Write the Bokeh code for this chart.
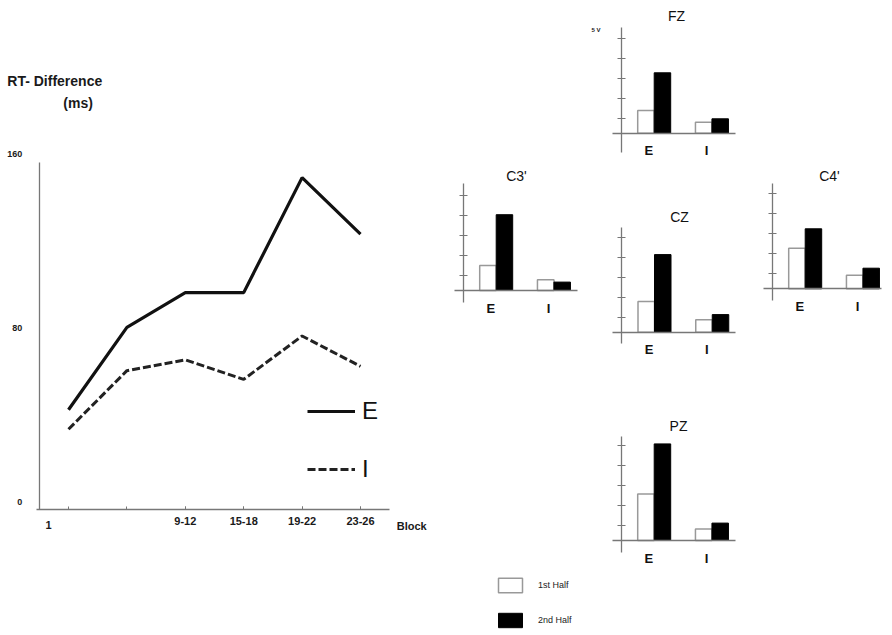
from bokeh.plotting import figure
from bokeh.models import (Range1d, LinearAxis, FixedTicker, Label, Legend, LegendItem,
                          ColumnDataSource)
from bokeh.layouts import row, column
from bokeh.embed import file_html
from bokeh.resources import INLINE

FONT = "Liberation Sans"

# ---------------- data ----------------
block_pos = [1, 2, 3, 4, 5, 6]
block_labels = ["1", "", "9-12", "15-18", "19-22", "23-26"]
rt_E = [46, 84, 100, 100, 153, 127]
rt_I = [37, 64, 69, 60, 80, 66]
rt_yticks = [0, 80, 160]

conditions = ["E", "I"]
half_labels = ["1st Half", "2nd Half"]
fz_first = [1.14, 0.55]
fz_second = [3.02, 0.72]
c3_first = [1.25, 0.54]
c3_second = [3.79, 0.42]
cz_first = [1.53, 0.62]
cz_second = [3.88, 0.88]
c4_first = [2.03, 0.68]
c4_second = [3.00, 1.03]
pz_first = [2.33, 0.58]
pz_second = [4.83, 0.87]
bar_ticks = [0.75, 1.75, 2.75, 3.75, 4.75]

AXIS_COLOR = "#777777"
TXT = "#1a1a1a"

# ---------------- left line chart ----------------
LW, LH = 440, 635
PX_X, PX_Y = 58.4, 2.169      # pixels per block / per ms
X1_PX, Y0_PX = 68, 509        # where block 1 / 0 ms sit on the canvas
lp = figure(width=LW, height=LH,
            x_range=Range1d(1 - X1_PX / PX_X, 1 + (LW - X1_PX) / PX_X),
            y_range=Range1d(-(LH - Y0_PX) / PX_Y, Y0_PX / PX_Y),
            x_axis_location=None, y_axis_location=None,
            output_backend="svg", toolbar_location=None, min_border=0)
lp.outline_line_color = None
lp.grid.visible = False

labelled = [p for p, l in zip(block_pos, block_labels) if l and p != 1]
xax = LinearAxis(fixed_location=0, bounds=(0.45, 6.5),
                 ticker=FixedTicker(ticks=labelled, minor_ticks=block_pos),
                 major_label_overrides={p: l for p, l in zip(block_pos, block_labels) if p in labelled})
xax.axis_line_color = AXIS_COLOR
xax.axis_line_width = 1.3
xax.major_tick_line_color = AXIS_COLOR
xax.major_tick_in = 3
xax.major_tick_out = 0
xax.minor_tick_line_color = AXIS_COLOR
xax.minor_tick_in = 3
xax.minor_tick_out = 0
xax.major_label_standoff = 7
xax.major_label_text_font = FONT
xax.major_label_text_font_size = "11px"
xax.major_label_text_font_style = "bold"
xax.major_label_text_color = TXT
lp.add_layout(xax, "below")

yax = LinearAxis(fixed_location=0.5, bounds=(0, 160), ticker=FixedTicker(ticks=[]))
yax.axis_line_color = AXIS_COLOR
yax.axis_line_width = 1.3
yax.major_tick_line_color = None
yax.minor_tick_line_color = None
lp.add_layout(yax, "left")

for t in rt_yticks:
    lp.add_layout(Label(x=0.5, y=t, text=str(t), x_offset=-17, y_offset=8,
                        text_align="right", text_baseline="middle",
                        text_font=FONT, text_font_size="9px", text_font_style="bold",
                        text_color=TXT))

lp.add_layout(Label(x=block_pos[0], y=0, text=block_labels[0], x_offset=-20, y_offset=-15,
                    text_align="center", text_baseline="middle", text_font=FONT,
                    text_font_size="11px", text_font_style="bold", text_color=TXT))
lp.add_layout(Label(x=6.5, y=0, text="Block", x_offset=22, y_offset=-16,
                    text_align="center", text_baseline="middle", text_font=FONT,
                    text_font_size="11px", text_font_style="bold", text_color=TXT))
lp.add_layout(Label(x=0.5, y=160, text="RT- Difference", x_offset=-32, y_offset=81,
                    text_align="left", text_baseline="middle", text_font=FONT,
                    text_font_size="14px", text_font_style="bold", text_color=TXT))
lp.add_layout(Label(x=0.5, y=160, text="(ms)", x_offset=24, y_offset=59,
                    text_align="left", text_baseline="middle", text_font=FONT,
                    text_font_size="14px", text_font_style="bold", text_color=TXT))

rE = lp.line(block_pos, rt_E, line_color="#111111", line_width=3.2)
rI = lp.line(block_pos, rt_I, line_color="#222222", line_width=3, line_dash="8 3")
lp.add_layout(Legend(items=[LegendItem(label="E", renderers=[rE]),
                            LegendItem(label="I", renderers=[rI])],
                     location=(307, 152), glyph_width=48, glyph_height=20, label_standoff=7,
                     spacing=30, padding=0, margin=0, border_line_color=None,
                     background_fill_alpha=0, label_text_font=FONT, label_text_font_size="24px",
                     label_text_color="#111111"))

# ---------------- small bar charts ----------------
SX, SY = 16.5, 20.0   # pixels per unit
LABEL_SHIFT = -0.33   # category labels sit slightly left of the bar pair


def bar_chart(title, first, second, fig_x, fig_y, W, H, axis_x, base_y,
              top_y, bottom_y, right_x, title_x, title_y):
    """fig_x/fig_y: canvas origin on page; other *_x/*_y: page pixels of the axes frame."""
    p = figure(width=W, height=H,
               x_range=Range1d((fig_x - axis_x) / SX, (fig_x + W - axis_x) / SX),
               y_range=Range1d(-(fig_y + H - base_y) / SY, (base_y - fig_y) / SY),
               x_axis_location=None, y_axis_location=None,
               output_backend="svg", toolbar_location=None, min_border=0)
    p.outline_line_color = None
    p.grid.visible = False

    x_lo, x_hi = -9 / SX, (right_x - axis_x) / SX
    y_lo, y_hi = -(bottom_y - base_y) / SY, (base_y - top_y) / SY

    centers = [2 + 3.5 * i for i in range(len(conditions))]
    src = ColumnDataSource(dict(
        x1=[c - 0.5 for c in centers], x2=[c + 0.5 for c in centers],
        first=first, second=second))
    r1 = p.vbar(x="x1", top="first", bottom=0, width=1, source=src,
                fill_color="white", line_color="#999999", line_width=1.5)
    r2 = p.vbar(x="x2", top="second", bottom=0, width=1, source=src,
                fill_color="black", line_color="black", line_width=1)

    label_pos = [c + LABEL_SHIFT for c in centers]
    xa = LinearAxis(fixed_location=0, bounds=(x_lo, x_hi), ticker=FixedTicker(ticks=label_pos),
                    major_label_overrides={c: n for c, n in zip(label_pos, conditions)})
    xa.axis_line_color = AXIS_COLOR
    xa.axis_line_width = 1.3
    xa.major_tick_line_color = None
    xa.minor_tick_line_color = None
    xa.major_label_standoff = 4
    xa.major_label_text_font = FONT
    xa.major_label_text_font_size = "13px"
    xa.major_label_text_font_style = "bold"
    xa.major_label_text_color = "#111111"
    p.add_layout(xa, "below")

    ya = LinearAxis(fixed_location=0, bounds=(y_lo, y_hi),
                    ticker=FixedTicker(ticks=[], minor_ticks=bar_ticks))
    ya.axis_line_color = AXIS_COLOR
    ya.axis_line_width = 1.3
    ya.major_tick_line_color = None
    ya.minor_tick_line_color = AXIS_COLOR
    ya.minor_tick_line_width = 1.2
    ya.minor_tick_in = 4
    ya.minor_tick_out = 4
    p.add_layout(ya, "left")

    p.add_layout(Label(x=(title_x - axis_x) / SX, y=(base_y - title_y) / SY, text=title,
                       text_align="center", text_baseline="middle", text_font=FONT,
                       text_font_size="14px", text_color="#111111"))
    return p, r1, r2


c3, _, _ = bar_chart("C3'", c3_first, c3_second, 440, 0, 148, 392,
                     462.7, 290, 183.3, 301.7, 576.7, 516, 175)
fz, _, _ = bar_chart("FZ", fz_first, fz_second, 588, 0, 162, 190,
                     620.7, 132.7, 27, 152, 735, 676, 15)
fz.add_layout(Label(x=(600 - 620.7) / SX, y=(132.7 - 29) / SY, text="5 V",
                    text_align="right", text_baseline="middle", text_font=FONT,
                    text_font_size="6px", text_font_style="bold", text_color="#222222"))
cz, _, _ = bar_chart("CZ", cz_first, cz_second, 588, 190, 162, 202,
                     621, 331.7, 226.7, 342.7, 735, 679, 216.7)
c4, _, _ = bar_chart("C4'", c4_first, c4_second, 750, 0, 142, 392,
                     771.7, 288.3, 183.3, 300, 881, 829, 175)
pz, p1, p2 = bar_chart("PZ", pz_first, pz_second, 440, 392, 452, 243,
                       620.7, 540, 436, 551.7, 735, 678, 425)
pz.add_layout(Legend(items=[LegendItem(label=half_labels[0], renderers=[p1]),
                            LegendItem(label=half_labels[1], renderers=[p2])],
                     location=(55, 6), glyph_width=30, glyph_height=18, label_standoff=13,
                     spacing=17, padding=2, margin=0, label_width=60,
                     border_line_color=None, background_fill_alpha=0,
                     label_text_font=FONT, label_text_font_size="9px",
                     label_text_color="#222222"))

layout = row(lp, column(row(c3, column(fz, cz), c4), pz))

open("out.html", "w").write(file_html(layout, INLINE))
